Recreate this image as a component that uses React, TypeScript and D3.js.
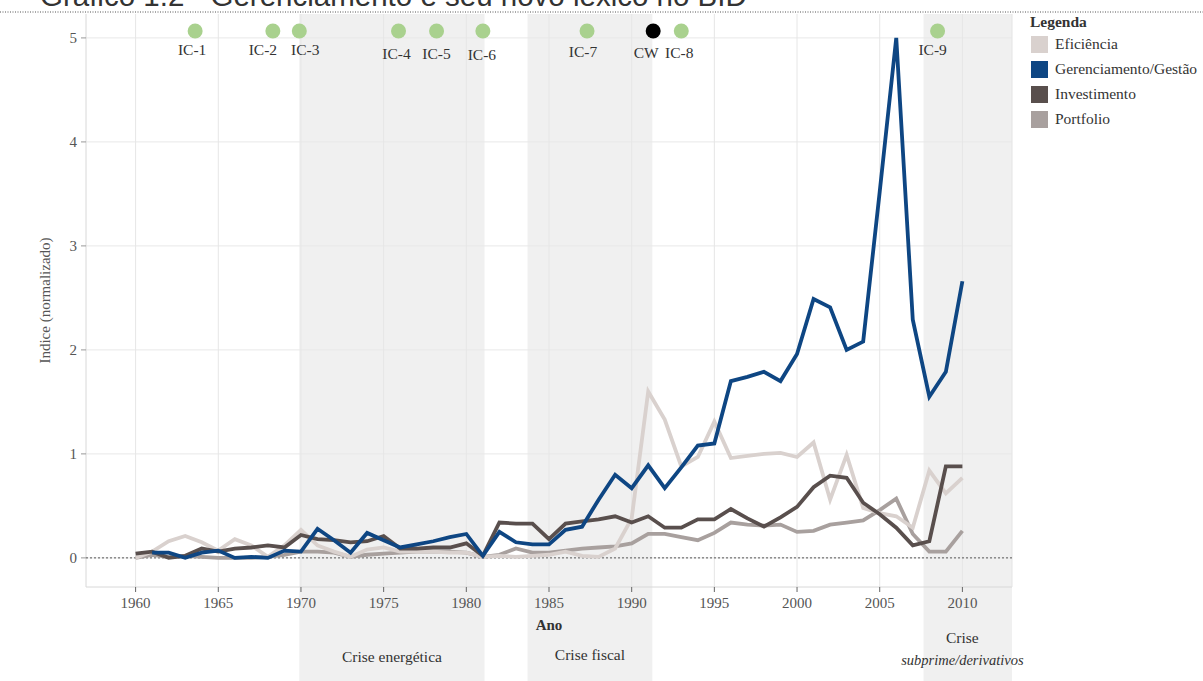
import React from "react";
import * as d3 from "d3";

const years: number[] = d3.range(1960, 2011);

const eficiencia: (number | null)[] = [
  0.0, 0.06, 0.16, 0.21, 0.15, 0.07, 0.18, 0.12, 0.01, 0.12,
  0.27, 0.12, 0.06, 0.01, 0.08, 0.10, 0.06, 0.06, 0.06, 0.05,
  0.05, 0.01, 0.02, 0.01, 0.02, 0.03, 0.06, 0.02, 0.01, 0.09,
  0.38, 1.60, 1.33, 0.88, 0.97, 1.31, 0.96, 0.98, 1.0, 1.01,
  0.97, 1.11, 0.56, 0.99, 0.48, 0.43, 0.40, 0.29, 0.84, 0.62,
  0.77,
];

const gerenciamento: (number | null)[] = [
  null, 0.05, 0.05, 0.0, 0.05, 0.07, 0.0, 0.01, 0.0, 0.07,
  0.06, 0.28, 0.17, 0.05, 0.24, 0.17, 0.10, 0.13, 0.16, 0.20,
  0.23, 0.02, 0.25, 0.15, 0.13, 0.13, 0.27, 0.30, 0.56, 0.80,
  0.67, 0.89, 0.67, 0.87, 1.08, 1.10, 1.70, 1.74, 1.79, 1.70,
  1.96, 2.49, 2.41, 2.00, 2.08, 3.52, 5.0, 2.29, 1.55, 1.79,
  2.66,
];

const investimento: (number | null)[] = [
  0.04, 0.06, 0.0, 0.02, 0.09, 0.06, 0.09, 0.10, 0.12, 0.10,
  0.22, 0.18, 0.17, 0.15, 0.16, 0.21, 0.09, 0.09, 0.10, 0.10,
  0.14, 0.02, 0.34, 0.33, 0.33, 0.18, 0.33, 0.35, 0.37, 0.40,
  0.34, 0.40, 0.29, 0.29, 0.37, 0.37, 0.47, 0.38, 0.30, 0.39,
  0.49, 0.68, 0.79, 0.77, 0.53, 0.42, 0.29, 0.12, 0.16, 0.88,
  0.88,
];

const portfolio: (number | null)[] = [
  0.0, 0.03, 0.01, 0.02, 0.01, 0.0, 0.0, 0.0, 0.01, 0.03,
  0.06, 0.06, 0.05, 0.01, 0.03, 0.04, 0.05, 0.06, 0.06, 0.06,
  0.05, 0.01, 0.03, 0.09, 0.05, 0.05, 0.07, 0.09, 0.10, 0.11,
  0.14, 0.23, 0.23, 0.20, 0.17, 0.24, 0.34, 0.32, 0.31, 0.32,
  0.25, 0.26, 0.32, 0.34, 0.36, 0.46, 0.57, 0.23, 0.06, 0.06,
  0.26,
];

const seriesNames = ["Eficiência", "Gerenciamento/Gestão", "Investimento", "Portfolio"];
const seriesColors = ["#d9d1ce", "#0e4683", "#594f4d", "#a8a09e"];
const drawOrder = [3, 0, 2, 1];
const seriesData = [eficiencia, gerenciamento, investimento, portfolio];

const xTicks = [1960, 1965, 1970, 1975, 1980, 1985, 1990, 1995, 2000, 2005, 2010];
const yTicks = [0, 1, 2, 3, 4, 5];

const events = ["IC-1", "IC-2", "IC-3", "IC-4", "IC-5", "IC-6", "IC-7", "CW", "IC-8", "IC-9"];
const eventYears = [1963.6, 1968.3, 1969.9, 1975.9, 1978.2, 1981.0, 1987.3, 1991.3, 1993.0, 2008.5];
const labelShift: Record<string, [number, number]> = {
  "IC-1": [-3, -4], "IC-2": [-10, -4], "IC-3": [6, -4], "IC-4": [-2, 0], "IC-5": [0, 0],
  "IC-6": [-1, 1], "IC-7": [-4, -2], "CW": [-7, -1], "IC-8": [-2, -1], "IC-9": [-5, -4],
};

const crises = ["Crise energética", "Crise fiscal", "Crise"];
const crisisStart = [1969.9, 1983.7, 2007.65];
const crisisEnd = [1981.1, 1991.25, 2013];

const W = 1203;
const H = 681;
const serif = "'Liberation Serif', 'DejaVu Serif', serif";

export default function App() {
  const x = d3.scaleLinear().domain([1957, 2013]).range([86, 1012]);
  const y = d3.scaleLinear().domain([-0.28, 5.23]).range([587, 14]);
  const plotTop = 14;
  const plotBottom = 587;

  const line = d3
    .line<number | null>()
    .defined((d) => d !== null)
    .x((_, i) => x(years[i]))
    .y((d) => y(d as number));

  return (
    <svg
      width={W}
      height={H}
      style={{ position: "absolute", left: 0, top: 0, background: "#fff" }}
      fontFamily={serif}
    >
      {/* title (cut at top, as in the reference) */}
      <text x={40} y={6} fontFamily="'Liberation Sans', Arial, sans-serif" fontSize={29.5} fill="#333">
        Gráfico 1.2 - Gerenciamento e seu novo léxico no BID
      </text>
      <line x1={0} x2={W} y1={12} y2={12} stroke="#555" strokeDasharray="1,1.5" strokeWidth={1} />

      {/* crisis bands */}
      {crises.map((c, i) => (
        <rect
          key={c}
          x={x(crisisStart[i])}
          y={plotTop}
          width={x(crisisEnd[i]) - x(crisisStart[i])}
          height={H - plotTop}
          fill="#f0f0f0"
        />
      ))}

      {/* grid */}
      {yTicks.map((t) => (
        <line key={"gy" + t} x1={86} x2={1012} y1={y(t)} y2={y(t)} stroke="#e8e8e8" strokeWidth={1} />
      ))}
      {xTicks.map((t) => (
        <line key={"gx" + t} x1={x(t)} x2={x(t)} y1={plotTop} y2={plotBottom} stroke="#e6e6e6" strokeWidth={1} />
      ))}
      {/* plot borders */}
      <line x1={86} x2={86} y1={plotTop} y2={plotBottom} stroke="#d8d8d8" />
      <line x1={86} x2={1012} y1={plotBottom} y2={plotBottom} stroke="#d8d8d8" />
      <line x1={1012} x2={1012} y1={plotTop} y2={plotBottom} stroke="#e4e4e4" />

      {/* ticks */}
      {xTicks.map((t) => (
        <g key={"tx" + t}>
          <line x1={x(t)} x2={x(t)} y1={plotBottom} y2={plotBottom + 5} stroke="#666" />
          <text x={x(t)} y={608} textAnchor="middle" fontSize={15} fill="#555">
            {t}
          </text>
        </g>
      ))}
      {yTicks.map((t) => (
        <g key={"ty" + t}>
          <line x1={81} x2={86} y1={y(t)} y2={y(t)} stroke="#999" />
          <text x={77} y={y(t) + 5} textAnchor="end" fontSize={15} fill="#555">
            {t}
          </text>
        </g>
      ))}

      {/* zero line */}
      <line x1={86} x2={1012} y1={y(0)} y2={y(0)} stroke="#555" strokeDasharray="2,2" strokeWidth={1} />

      {/* axis titles */}
      <text x={549} y={630} textAnchor="middle" fontSize={15} fontWeight="bold" fill="#333">
        Ano
      </text>
      <text
        transform={`translate(50, ${(plotTop + plotBottom) / 2}) rotate(-90)`}
        textAnchor="middle"
        fontSize={15}
        fill="#555"
      >
        Indice (normalizado)
      </text>

      {/* crisis labels */}
      <text x={(x(crisisStart[0]) + x(crisisEnd[0])) / 2} y={662} textAnchor="middle" fontSize={15.5} fill="#333">
        {crises[0]}
      </text>
      <text x={(x(crisisStart[1]) + x(crisisEnd[1])) / 2} y={660} textAnchor="middle" fontSize={15.5} fill="#333">
        {crises[1]}
      </text>
      <text x={x(2010)} y={643} textAnchor="middle" fontSize={15.5} fill="#333">
        {crises[2]}
      </text>
      <text x={x(2010)} y={665} textAnchor="middle" fontSize={14.5} fontStyle="italic" fill="#333">
        subprime/derivativos
      </text>

      {/* lines */}
      {drawOrder.map((si) => (
        <path
          key={seriesNames[si]}
          d={line(seriesData[si]) || ""}
          fill="none"
          stroke={seriesColors[si]}
          strokeWidth={3.8}
          strokeLinejoin="miter"
        />
      ))}

      {/* event markers */}
      {events.map((e, i) => (
        <g key={e}>
          <ellipse cx={x(eventYears[i])} cy={31} rx={7.5} ry={7.5} fill={e === "CW" ? "#000" : "#a9d18e"} />
          <text
            x={x(eventYears[i]) + labelShift[e][0]}
            y={59 + labelShift[e][1]}
            textAnchor="middle"
            fontSize={15.5}
            fill="#333"
          >
            {e}
          </text>
        </g>
      ))}

      {/* legend */}
      <text x={1030} y={27} fontSize={15.5} fontWeight="bold" fill="#333">
        Legenda
      </text>
      {seriesNames.map((n, i) => (
        <g key={n}>
          <rect x={1031} y={36 + i * 25} width={17} height={17} fill={seriesColors[i]} />
          <text x={1055} y={49 + i * 25} fontSize={15.5} fill="#333">
            {n}
          </text>
        </g>
      ))}
    </svg>
  );
}
